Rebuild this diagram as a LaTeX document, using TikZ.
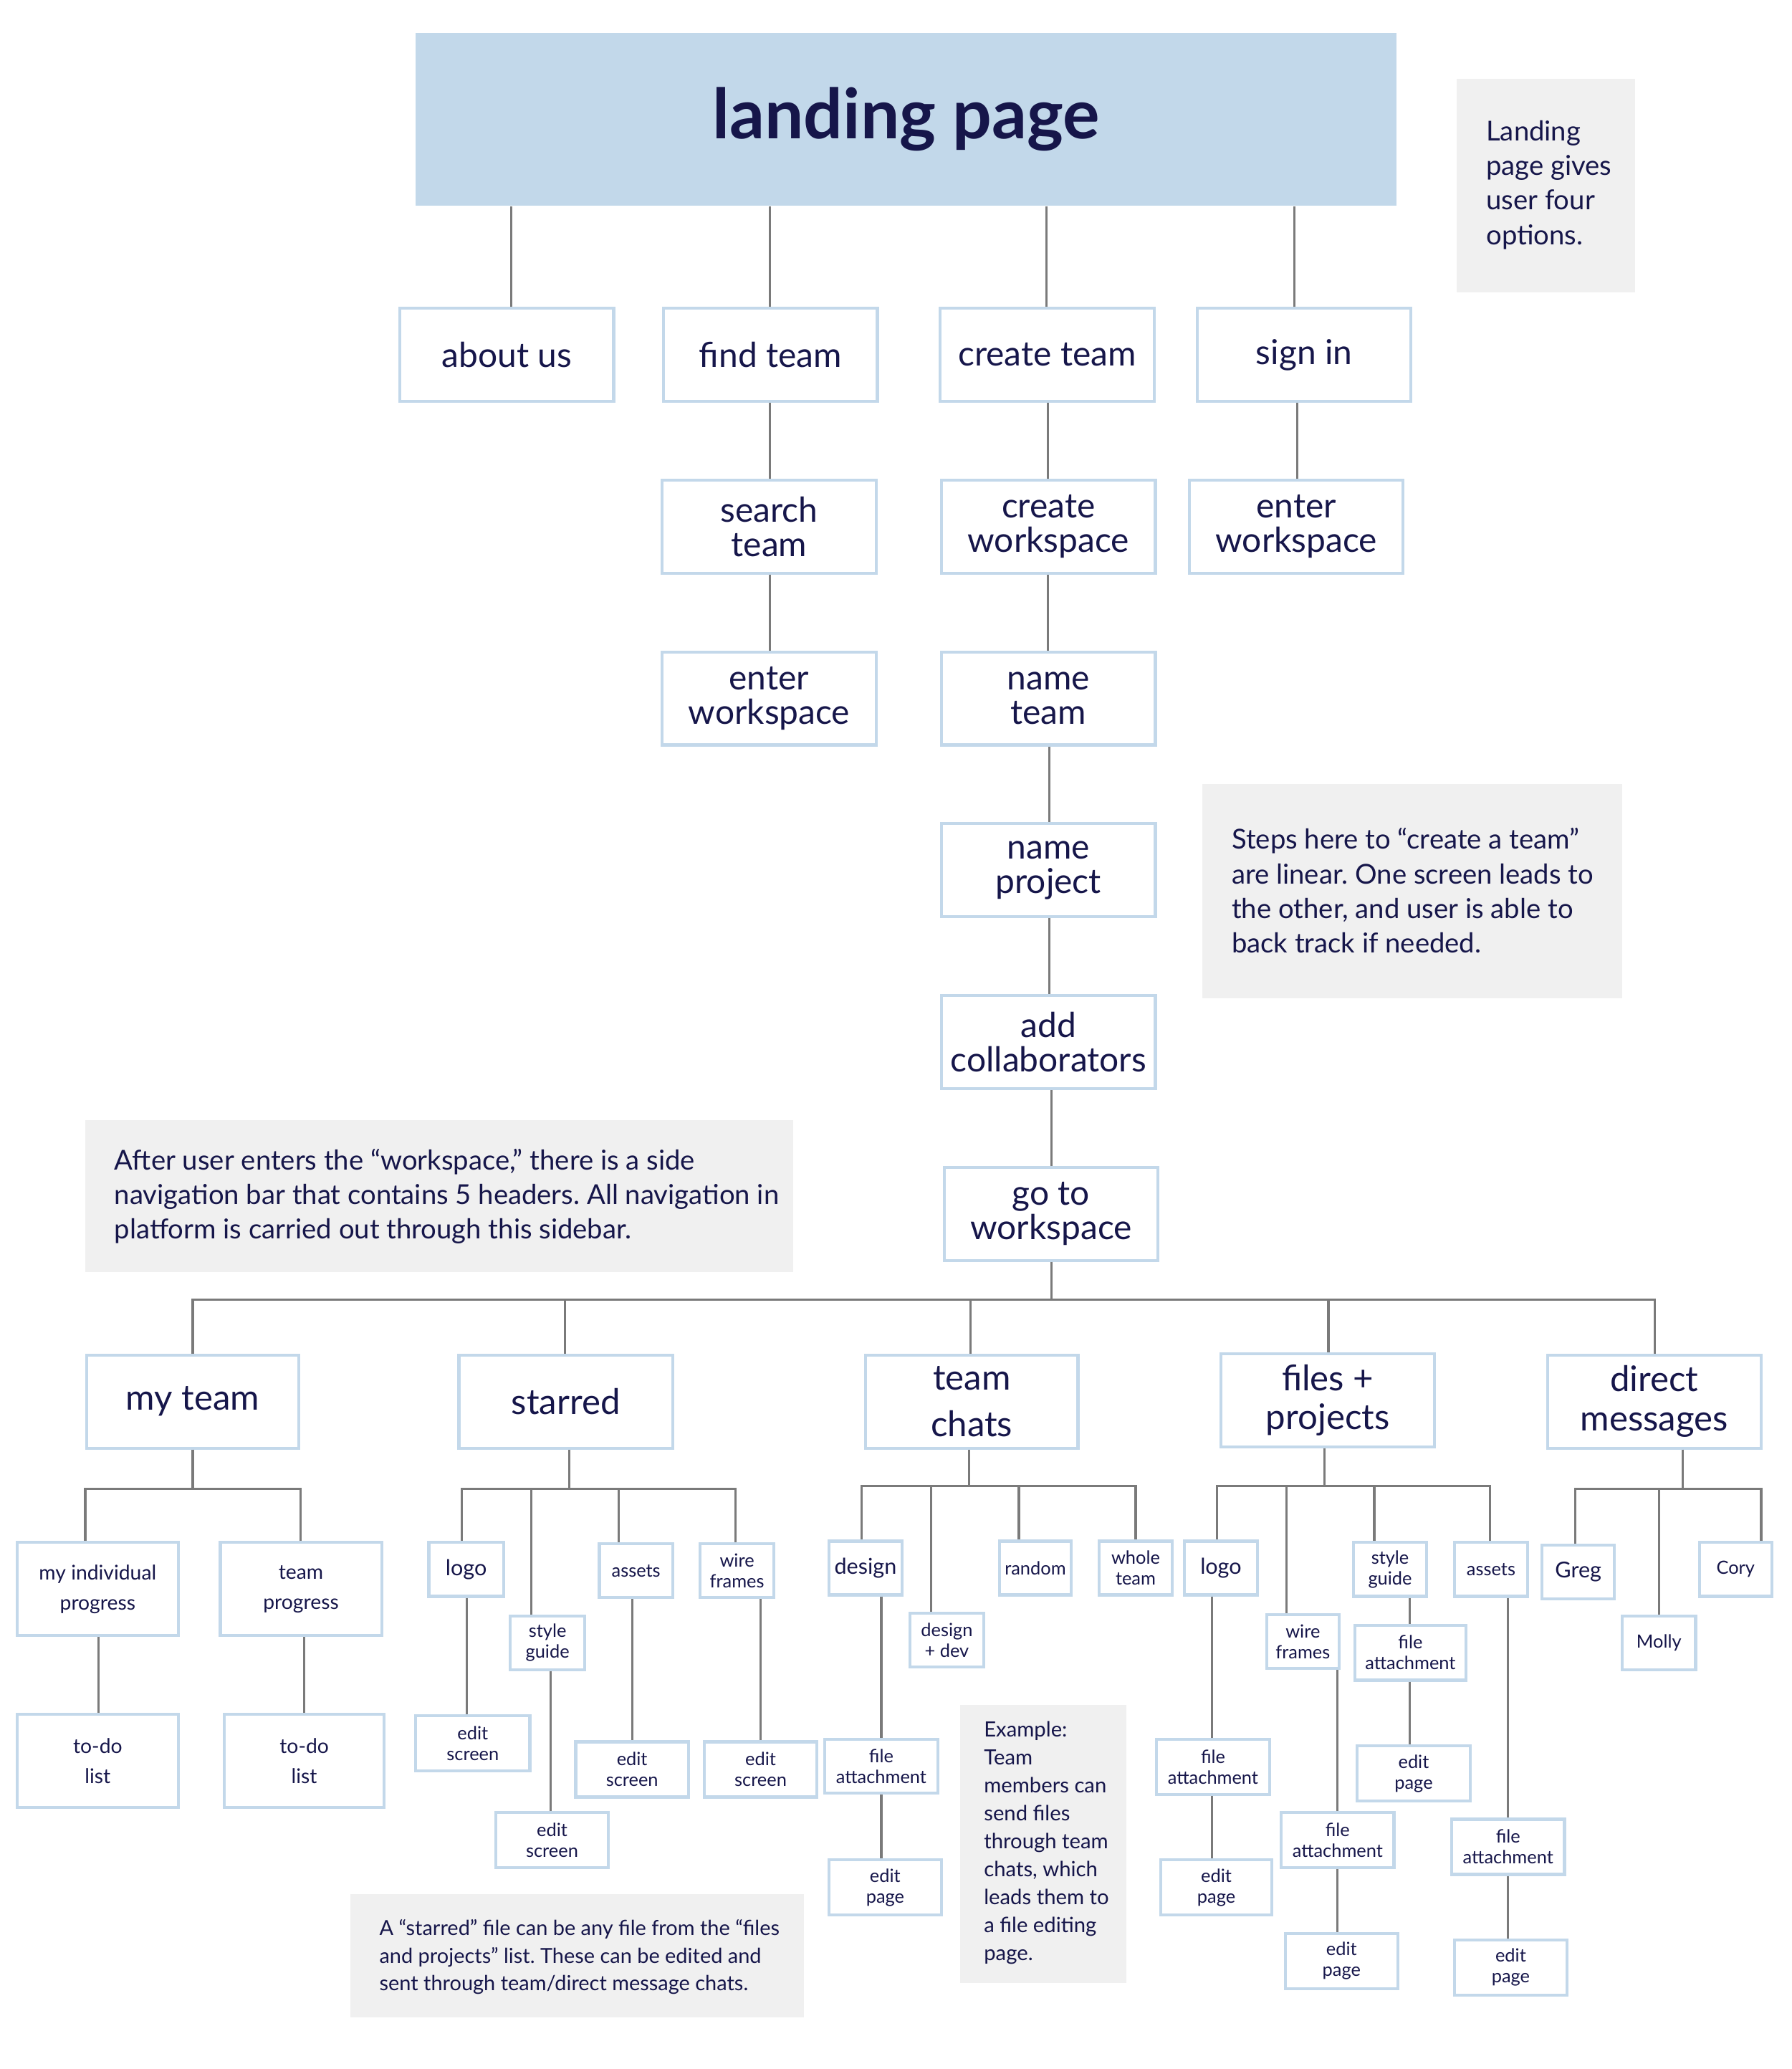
\documentclass[tikz,border=0pt]{standalone}
\usepackage{fontspec}
\setmainfont{Lato}
\definecolor{navy}{HTML}{16164A}
\definecolor{bord}{HTML}{C3D8EA}
\definecolor{lpfill}{HTML}{C2D8EA}
\definecolor{notefill}{HTML}{F0F0F0}
\definecolor{conncol}{HTML}{7A7A7A}
\newcommand\mybox[7]{%
  \node[#6, minimum width={(#4-#2)*0.02cm}, minimum height={(#5-#3)*0.02cm}] (#1) at ({(#2+#4)/2},{(#3+#5)/2}) {#7};}
\tikzset{
  bx/.style={draw=bord, line width=1.3pt, fill=white, inner sep=0pt, text=navy, align=center},
  lpbox/.style={fill=lpfill, draw=none, inner sep=0pt, text=navy, font=\fontsize{30}{33}\bfseries\selectfont},
  notebg/.style={fill=notefill, draw=none, inner sep=0pt},
  fbig/.style={font=\fontsize{14.9}{15}\selectfont},
  fhead/.style={font=\fontsize{15.3}{17}\selectfont},
  fmid/.style={font=\fontsize{8.8}{13}\selectfont},
  fsmall/.style={font=\fontsize{7.9}{9}\selectfont},
  fsmallb/.style={font=\fontsize{9.5}{10}\selectfont},
  notetext/.style={text=navy, align=left, inner sep=0pt, anchor=west},
  nbig/.style={font=\fontsize{11.9}{15}\selectfont},
  nsmall/.style={font=\fontsize{9}{11.9}\selectfont},
  nex/.style={font=\fontsize{9.1}{12.1}\selectfont},
  cn/.style={draw=conncol, line width=1pt},
}
\frenchspacing
\begin{document}
\begin{tikzpicture}[x=0.02cm,y=-0.02cm]
\fill[white] (0,0) rectangle (1366,1577.4);
\useasboundingbox (0,0) rectangle (1366,1577.4);
% landing page
\mybox{lp}{317}{25}{1065}{157}{lpbox}{landing page}
% notes
\mybox{n1}{1111}{60}{1247}{223}{notebg}{}
\node[notetext, nbig] (n1t) at (1133,141) {Landing\\page gives\\user four\\options.};
\mybox{n2}{917}{598}{1237}{761}{notebg}{}
\node[notetext, nbig] (n2t) at (939,679) {Steps here to “create a team”\\are linear. One screen leads to\\the other, and user is able to\\back track if needed.};
\mybox{n3}{65}{854}{605}{970}{notebg}{}
\node[notetext, nbig] (n3t) at (87,912) {After user enters the “workspace,” there is a side\\navigation bar that contains 5 headers. All navigation in\\platform is carried out through this sidebar.};
\mybox{n4}{267}{1444}{613}{1538}{notebg}{}
\node[notetext, nsmall] (n4t) at (289,1492) {A “starred” file can be any file from the “files\\and projects” list. These can be edited and\\sent through team/direct message chats.};
\mybox{n5}{732}{1300}{859}{1512}{notebg}{}
\node[notetext, nex] (n5t) at (750,1405) {Example:\\Team\\members can\\send files\\through team\\chats, which\\leads them to\\a file editing\\page.};
% row 1
\mybox{about}{305}{235}{468}{306}{bx,fbig}{about us}
\mybox{find}{506}{235}{669}{306}{bx,fbig}{find team}
\mybox{create}{717}{235}{880}{306}{bx,fbig}{create team}
\mybox{signin}{913}{235}{1076}{306}{bx,fbig}{sign in}
% row 2
\mybox{search}{505}{366}{668}{437}{bx,fbig}{search\\team}
\mybox{cws}{718}{366}{881}{437}{bx,fbig}{create\\workspace}
\mybox{ews2}{907}{366}{1070}{437}{bx,fbig}{enter\\workspace}
% row 3-6
\mybox{ews1}{505}{497}{668}{568}{bx,fbig}{enter\\workspace}
\mybox{nteam}{718}{497}{881}{568}{bx,fbig}{name\\team}
\mybox{nproj}{718}{628}{881}{699}{bx,fbig}{name\\project}
\mybox{addc}{718}{759}{881}{830}{bx,fbig}{add\\collaborators}
\mybox{gows}{720}{890}{883}{961}{bx,fbig}{go to\\workspace}
% headers
\mybox{myteam}{66}{1033}{228}{1104}{bx,fhead}{my team}
\mybox{starred}{350}{1033}{513}{1104}{bx,fhead}{starred}
\mybox{tchats}{660}{1033}{822}{1104}{bx,fhead}{team\\[3.4pt]chats}
\mybox{files}{931}{1032}{1094}{1103}{bx,fhead}{files +\\projects}
\mybox{direct}{1180}{1033}{1343}{1104}{bx,fhead}{direct\\messages}
% my team subtree
\mybox{indiv}{13}{1176}{136}{1247}{bx,fmid}{my individual\\progress}
\mybox{tprog}{168}{1176}{291}{1247}{bx,fmid}{team\\progress}
\mybox{todo1}{13}{1307}{136}{1378}{bx,fmid}{to-do\\list}
\mybox{todo2}{171}{1307}{293}{1378}{bx,fmid}{to-do\\list}
% starred subtree
\mybox{logo1}{327}{1176}{384}{1217}{bx,fsmallb}{logo}
\mybox{sg1}{389}{1232}{446}{1273}{bx,fsmall}{style\\guide}
\mybox{assets1}{457}{1177}{513}{1218}{bx,fsmall}{assets}
\mybox{wf1}{534}{1177}{590}{1218}{bx,fsmall}{wire\\frames}
\mybox{es1}{317}{1308}{404}{1350}{bx,fsmall}{edit\\screen}
\mybox{es2}{378}{1382}{464}{1424}{bx,fsmall}{edit\\screen}
\mybox{es3}{439}{1328}{525}{1370}{bx,fsmall}{edit\\screen}
\mybox{es4}{537}{1328}{623}{1370}{bx,fsmall}{edit\\screen}
% team chats subtree
\mybox{design}{632}{1175}{688}{1216}{bx,fsmallb}{design}
\mybox{ddev}{694}{1230}{750}{1271}{bx,fsmall}{design\\+ dev}
\mybox{random}{762}{1175}{817}{1216}{bx,fsmall}{random}
\mybox{whole}{838}{1175}{894}{1216}{bx,fsmall}{whole\\team}
\mybox{fa1}{629}{1326}{715}{1367}{bx,fsmall}{file\\attachment}
\mybox{ep1}{632}{1418}{718}{1460}{bx,fsmall}{edit\\page}
% files subtree
\mybox{logo2}{903}{1175}{959}{1216}{bx,fsmallb}{logo}
\mybox{wf2}{966}{1231}{1021}{1272}{bx,fsmall}{wire\\frames}
\mybox{sg2}{1032}{1176}{1088}{1217}{bx,fsmall}{style\\guide}
\mybox{assets2}{1109}{1176}{1165}{1217}{bx,fsmall}{assets}
\mybox{fa4}{1033}{1239}{1118}{1281}{bx,fsmall}{file\\attachment}
\mybox{ep4}{1035}{1331}{1121}{1373}{bx,fsmall}{edit\\page}
\mybox{fa2}{882}{1326}{968}{1368}{bx,fsmall}{file\\attachment}
\mybox{ep2}{885}{1418}{970}{1460}{bx,fsmall}{edit\\page}
\mybox{fa3}{977}{1382}{1063}{1424}{bx,fsmall}{file\\attachment}
\mybox{ep3}{980}{1474}{1066}{1516}{bx,fsmall}{edit\\page}
\mybox{fa5}{1107}{1387}{1193}{1429}{bx,fsmall}{file\\attachment}
\mybox{ep5}{1109}{1479}{1195}{1521}{bx,fsmall}{edit\\page}
% direct subtree
\mybox{greg}{1176}{1178}{1231}{1219}{bx,fsmallb}{Greg}
\mybox{molly}{1237}{1232}{1293}{1273}{bx,fsmall}{Molly}
\mybox{cory}{1296}{1176}{1351}{1217}{bx,fsmall}{Cory}
% connectors: top
\draw[cn] (lp.south -| 390,0) -- (about.north -| 390,0);
\draw[cn] (lp.south -| 587,0) -- (find.north -| 587,0);
\draw[cn] (lp.south -| 798,0) -- (create.north -| 798,0);
\draw[cn] (lp.south -| 987,0) -- (signin.north -| 987,0);
\draw[cn] (find.south -| 587,0) -- (search.north -| 587,0);
\draw[cn] (search.south -| 587,0) -- (ews1.north -| 587,0);
\draw[cn] (create.south -| 799,0) -- (cws.north -| 799,0);
\draw[cn] (signin.south -| 989,0) -- (ews2.north -| 989,0);
\draw[cn] (cws.south -| 799,0) -- (nteam.north -| 799,0);
\draw[cn] (nteam.south -| 800,0) -- (nproj.north -| 800,0);
\draw[cn] (nproj.south -| 800,0) -- (addc.north -| 800,0);
\draw[cn] (addc.south -| 802,0) -- (gows.north -| 802,0);
% main bus
\coordinate (mb) at (802,991);
\draw[cn] (gows.south -| mb) -- (mb);
\draw[cn] (mb) -| (myteam.north -| 147,0);
\draw[cn] (mb) -| (starred.north -| 431,0);
\draw[cn] (mb) -| (tchats.north -| 740,0);
\draw[cn] (mb) -| (files.north -| 1013,0);
\draw[cn] (mb) -| (direct.north -| 1262,0);
% my team
\coordinate (b1) at (147,1135);
\draw[cn] (myteam.south -| b1) -- (b1);
\draw[cn] (b1) -| (indiv.north -| 65,0);
\draw[cn] (b1) -| (tprog.north -| 229,0);
\draw[cn] (indiv.south -| 75,0) -- (todo1.north -| 75,0);
\draw[cn] (tprog.south -| 232,0) -- (todo2.north -| 232,0);
% starred
\coordinate (b2) at (434,1135);
\draw[cn] (starred.south -| b2) -- (b2);
\draw[cn] (b2) -| (logo1.north -| 352,0);
\draw[cn] (b2) -| (sg1.north -| 405,0);
\draw[cn] (b2) -| (assets1.north -| 472,0);
\draw[cn] (b2) -| (wf1.north -| 561,0);
\draw[cn] (logo1.south -| 356,0) -- (es1.north -| 356,0);
\draw[cn] (sg1.south -| 420,0) -- (es2.north -| 420,0);
\draw[cn] (assets1.south -| 482,0) -- (es3.north -| 482,0);
\draw[cn] (wf1.south -| 580,0) -- (es4.north -| 580,0);
% team chats
\coordinate (b3) at (739,1133);
\draw[cn] (tchats.south -| b3) -- (b3);
\draw[cn] (b3) -| (design.north -| 657,0);
\draw[cn] (b3) -| (ddev.north -| 710,0);
\draw[cn] (b3) -| (random.north -| 777,0);
\draw[cn] (b3) -| (whole.north -| 866,0);
\draw[cn] (design.south -| 672,0) -- (fa1.north -| 672,0);
\draw[cn] (fa1.south -| 672,0) -- (ep1.north -| 672,0);
% files
\coordinate (b4) at (1010,1133);
\draw[cn] (files.south -| b4) -- (b4);
\draw[cn] (b4) -| (logo2.north -| 928,0);
\draw[cn] (b4) -| (wf2.north -| 981,0);
\draw[cn] (b4) -| (sg2.north -| 1048,0);
\draw[cn] (b4) -| (assets2.north -| 1136,0);
\draw[cn] (logo2.south -| 924,0) -- (fa2.north -| 924,0);
\draw[cn] (fa2.south -| 924,0) -- (ep2.north -| 924,0);
\draw[cn] (wf2.south -| 1020,0) -- (fa3.north -| 1020,0);
\draw[cn] (fa3.south -| 1020,0) -- (ep3.north -| 1020,0);
\draw[cn] (sg2.south -| 1075,0) -- (fa4.north -| 1075,0);
\draw[cn] (fa4.south -| 1075,0) -- (ep4.north -| 1075,0);
\draw[cn] (assets2.south -| 1150,0) -- (fa5.north -| 1150,0);
\draw[cn] (fa5.south -| 1150,0) -- (ep5.north -| 1150,0);
% direct
\coordinate (b5) at (1283,1135);
\draw[cn] (direct.south -| b5) -- (b5);
\draw[cn] (b5) -| (greg.north -| 1201,0);
\draw[cn] (b5) -| (molly.north -| 1265,0);
\draw[cn] (b5) -| (cory.north -| 1343,0);
\end{tikzpicture}
\end{document}
